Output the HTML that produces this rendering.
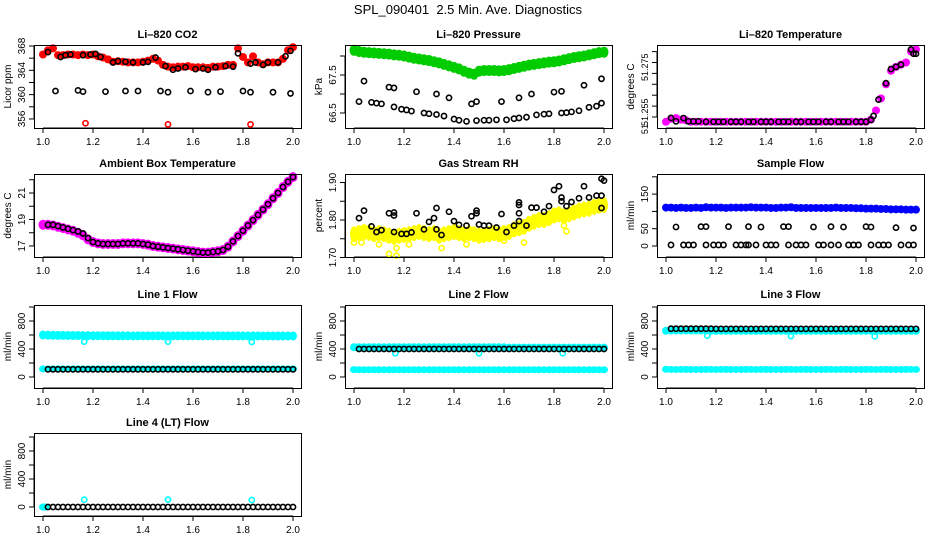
<!DOCTYPE html>
<html><head><meta charset="utf-8"><style>
html,body{margin:0;padding:0;background:#fff;}
svg{display:block;font-family:"Liberation Sans",Arial,sans-serif;}
</style></head><body>
<svg id="chart" width="936" height="540" viewBox="0 0 936 540" xmlns="http://www.w3.org/2000/svg">
<text x="468" y="14" text-anchor="middle" font-size="13">SPL_090401&#160; 2.5 Min. Ave. Diagnostics</text>
</svg>
<script>
// ---- shared x grid (time) ----
const gridX = [1.00,1.02,1.04,1.06,1.08,1.10,1.12,1.14,1.16,1.18,1.20,1.22,1.24,1.26,1.28,1.30,1.32,1.34,1.36,1.38,1.40,1.42,1.44,1.46,1.48,1.50,1.52,1.54,1.56,1.58,1.60,1.62,1.64,1.66,1.68,1.70,1.72,1.74,1.76,1.78,1.80,1.82,1.84,1.86,1.88,1.90,1.92,1.94,1.96,1.98,2.00];
const xTicks = [1.0,1.2,1.4,1.6,1.8,2.0];
const xTickLabels = ["1.0","1.2","1.4","1.6","1.8","2.0"];

// ---- Li-820 CO2 ----
const co2Band = [366.6,367.3,367.6,366.5,366.5,366.6,366.6,366.5,366.6,366.5,366.6,366.3,366.1,365.8,365.4,365.5,365.4,365.3,365.3,365.3,365.4,365.6,365.9,365.6,364.9,364.6,364.5,364.6,364.6,364.7,364.5,364.5,364.5,364.4,364.6,364.6,364.7,364.9,364.9,367.6,366.2,365.3,366.3,365.3,365.0,365.3,365.3,365.3,365.9,367.3,367.8];
const co2HiX = [1.02,1.07,1.09,1.11,1.16,1.19,1.21,1.23,1.28,1.30,1.33,1.36,1.40,1.42,1.45,1.49,1.52,1.54,1.57,1.61,1.64,1.66,1.69,1.73,1.76,1.78,1.83,1.85,1.88,1.90,1.94,1.97,1.99];
const co2HiY = [367.0,366.2,366.5,366.6,366.5,366.6,366.7,366.2,365.3,365.5,365.4,365.3,365.3,365.4,366.1,364.7,364.1,364.3,364.5,364.2,364.3,364.1,364.5,364.7,364.6,366.8,365.1,365.3,364.9,365.3,365.3,366.3,367.2];
const co2LoX = [1.05,1.14,1.16,1.25,1.33,1.38,1.47,1.50,1.59,1.66,1.71,1.80,1.83,1.92,1.99];
const co2LoY = [360.6,360.7,360.5,360.5,360.6,360.6,360.6,360.4,360.6,360.4,360.5,360.6,360.4,360.4,360.2];
const co2RedX = [1.17,1.50,1.83];
const co2RedY = [355.3,355.1,355.1];

// ---- Li-820 Pressure ----
const presBand = [68.15,68.12,68.1,68.09,68.08,68.07,68.06,68.05,68.03,68.02,68.0,67.97,67.94,67.92,67.9,67.88,67.85,67.82,67.78,67.74,67.7,67.66,67.6,67.55,67.52,67.6,67.62,67.62,67.62,67.61,67.62,67.64,67.67,67.7,67.73,67.76,67.78,67.8,67.82,67.84,67.85,67.87,67.9,67.93,67.96,67.98,68.0,68.03,68.06,68.09,68.1];
const presUpX = [1.04,1.14,1.16,1.25,1.33,1.38,1.47,1.49,1.59,1.66,1.71,1.80,1.83,1.92,1.99];
const presUpY = [67.34,67.18,67.16,67.06,67.0,66.9,66.74,66.8,66.8,66.9,67.0,67.05,67.07,67.23,67.4];
const presLoX = [1.02,1.07,1.09,1.11,1.16,1.19,1.21,1.23,1.28,1.30,1.33,1.36,1.40,1.42,1.45,1.49,1.52,1.54,1.57,1.61,1.64,1.66,1.69,1.73,1.76,1.78,1.83,1.85,1.87,1.90,1.94,1.97,1.99];
const presLoY = [66.8,66.78,66.76,66.74,66.66,66.6,66.58,66.55,66.5,66.48,66.46,66.42,66.34,66.31,66.28,66.3,66.31,66.31,66.32,66.32,66.35,66.37,66.39,66.45,66.47,66.48,66.5,66.51,66.53,66.56,66.65,66.68,66.76];

// ---- Li-820 Temperature ----
const tempBand = [51.2478,51.2492,51.2495,51.2488,51.2485,51.2478,51.2478,51.2478,51.2478,51.2478,51.2478,51.2478,51.2478,51.2478,51.2478,51.2478,51.2478,51.2478,51.2478,51.2478,51.2478,51.2478,51.2478,51.2478,51.2478,51.2478,51.2478,51.2478,51.2478,51.2478,51.2478,51.2478,51.2478,51.2478,51.2478,51.2478,51.2478,51.2478,51.2478,51.2478,51.2478,51.2488,51.2530,51.2585,51.2650,51.2712,51.2730,51.2740,51.2750,51.2800,51.2810];
const tempPtX = [1.02,1.04,1.07,1.09,1.11,1.13,1.16,1.19,1.21,1.23,1.26,1.28,1.30,1.33,1.35,1.38,1.40,1.42,1.45,1.47,1.49,1.52,1.54,1.57,1.59,1.61,1.64,1.66,1.69,1.71,1.73,1.76,1.78,1.80,1.82,1.83,1.85,1.88,1.90,1.92,1.94,1.98,1.99,2.00];
const tempPtY = [51.2496,51.2480,51.2495,51.2480,51.2480,51.2480,51.2478,51.2478,51.2478,51.2478,51.2478,51.2478,51.2478,51.2478,51.2478,51.2478,51.2478,51.2478,51.2478,51.2478,51.2478,51.2478,51.2478,51.2478,51.2478,51.2478,51.2478,51.2478,51.2478,51.2478,51.2478,51.2478,51.2478,51.2478,51.2487,51.2505,51.2580,51.2655,51.2720,51.2730,51.2740,51.2810,51.2790,51.2790];
const tempLabelText = ["51.275","51.255","51."];
const tempLabelVal = [51.2728,51.2522,51.2450];

// ---- Ambient Box Temperature ----
const ambBand = [18.6,18.6,18.55,18.45,18.35,18.25,18.15,18.0,17.8,17.5,17.3,17.2,17.15,17.15,17.15,17.15,17.2,17.2,17.2,17.2,17.15,17.1,17.0,16.95,16.9,16.85,16.8,16.75,16.7,16.65,16.6,16.55,16.5,16.5,16.55,16.6,16.7,16.95,17.35,17.75,18.15,18.55,18.95,19.35,19.75,20.15,20.6,21.0,21.45,21.85,22.2];
const ambPtY = [18.6,18.6,18.5,18.4,18.3,18.2,18.1,17.95,17.6,17.3,17.2,17.15,17.15,17.15,17.15,17.2,17.2,17.2,17.2,17.15,17.1,17.0,16.95,16.9,16.85,16.8,16.75,16.7,16.65,16.6,16.55,16.5,16.5,16.55,16.6,16.7,16.95,17.35,17.75,18.15,18.55,18.95,19.35,19.75,20.15,20.6,21.0,21.45,21.85,22.2];

// ---- Gas Stream RH ----
const rhBand = [1.762,1.765,1.768,1.766,1.762,1.765,1.762,1.758,1.755,1.758,1.76,1.762,1.765,1.768,1.765,1.762,1.765,1.758,1.762,1.765,1.768,1.765,1.762,1.765,1.762,1.758,1.76,1.762,1.765,1.762,1.765,1.768,1.775,1.778,1.782,1.79,1.795,1.80,1.80,1.805,1.812,1.815,1.81,1.815,1.82,1.825,1.828,1.83,1.835,1.838,1.84];
const rhLowX = [1.00,1.03,1.10,1.14,1.17,1.17,1.22,1.35,1.45,1.60,1.68,1.85,1.84];
const rhLowY = [1.74,1.74,1.735,1.71,1.705,1.725,1.735,1.725,1.735,1.745,1.74,1.77,1.785];
const rhPtX = [1.02,1.04,1.07,1.09,1.11,1.14,1.16,1.16,1.16,1.19,1.21,1.23,1.25,1.28,1.30,1.32,1.33,1.33,1.35,1.38,1.40,1.42,1.45,1.47,1.49,1.49,1.50,1.52,1.54,1.57,1.59,1.61,1.64,1.66,1.66,1.66,1.66,1.69,1.71,1.73,1.76,1.78,1.80,1.82,1.83,1.83,1.85,1.87,1.90,1.92,1.94,1.97,1.99,1.99,1.99,2.00];
const rhPtY = [1.805,1.825,1.783,1.768,1.773,1.818,1.82,1.812,1.768,1.763,1.763,1.767,1.818,1.775,1.795,1.805,1.832,1.775,1.76,1.822,1.797,1.787,1.785,1.81,1.818,1.825,1.788,1.785,1.785,1.78,1.816,1.768,1.785,1.797,1.818,1.84,1.847,1.785,1.833,1.833,1.822,1.837,1.88,1.89,1.86,1.85,1.837,1.848,1.858,1.89,1.86,1.865,1.865,1.832,1.91,1.905];

// ---- Sample Flow ----
const sfBand = [111,111,110,111,110,110,111,110,112,111,111,111,110,111,111,111,111,112,111,111,111,110,110,111,111,112,110,110,110,110,110,110,110,110,111,110,110,110,109,109,108,108,108,107,107,106,106,106,105,105,105];
const sfUpX = [1.04,1.14,1.16,1.25,1.33,1.38,1.47,1.49,1.59,1.66,1.71,1.80,1.82,1.92,1.99];
const sfUpY = [55,56,56,56,56,55,56,56,55,56,55,56,55,53,52];
const sfZeroX = [1.02,1.07,1.09,1.11,1.16,1.19,1.21,1.23,1.28,1.30,1.32,1.33,1.36,1.40,1.42,1.44,1.49,1.52,1.54,1.56,1.61,1.63,1.66,1.69,1.73,1.75,1.77,1.82,1.85,1.87,1.89,1.94,1.97,1.99];
const sfZeroY = [3,3,3,3,3,3,3,3,3,3,3,3,3,3,3,3,3,3,3,3,3,3,3,3,3,3,3,3,3,3,3,3,3,3];

// ---- Line flows ----
const dipX = [1.165,1.50,1.835];
const l1High = [600,598,596,595,594,593,592,592,591,591,590,590,590,589,589,589,589,589,588,588,588,588,588,588,588,588,588,588,588,588,588,588,588,588,588,588,587,587,587,587,587,587,587,587,586,586,586,586,586,586,586];
const l1Low = [115,116,116,116,116,116,116,116,116,116,116,116,116,116,116,116,116,116,116,116,116,116,116,116,116,116,116,116,116,116,116,116,116,116,116,116,116,116,116,116,116,116,116,116,116,116,116,116,116,116,116];
const l1Black = [110,110,110,110,110,110,110,110,110,110,110,110,110,110,110,110,110,110,110,110,110,110,110,110,110,110,110,110,110,110,110,110,110,110,110,110,110,110,110,110,110,110,110,110,110,110,110,110,110,110];
const l1Dip = [505,505,500];
const l2High = [425,425,425,425,425,425,425,425,425,425,425,425,425,425,425,425,425,425,425,425,425,425,425,425,425,425,425,425,425,425,425,420,420,420,420,420,420,420,420,420,420,420,420,420,420,420,420,420,420,420,420];
const l2Low = [105,104,104,104,104,104,104,104,104,104,104,104,104,104,104,104,104,104,104,104,104,104,104,104,104,104,104,104,104,104,104,104,104,104,104,104,104,104,104,104,104,104,104,104,104,104,104,104,104,104,104];
const l2Black = [400,400,400,400,400,400,400,400,400,400,400,400,400,400,400,400,400,400,400,400,400,400,400,400,400,400,400,400,400,400,400,400,400,400,400,400,400,400,400,400,400,400,400,400,400,400,400,400,400,400];
const l2Dip = [340,340,340];
const l3High = [660,665,665,665,665,665,665,665,665,660,660,660,660,660,660,660,660,660,660,660,660,660,660,660,660,660,660,660,660,660,660,660,660,660,660,660,660,660,660,660,660,660,660,660,660,660,660,660,660,660,660];
const l3Low = [110,108,108,108,108,108,108,108,108,108,108,108,108,108,108,108,108,108,108,108,108,108,108,108,108,108,108,108,108,108,108,108,108,108,108,108,108,108,108,108,108,108,108,108,108,108,108,108,108,108,108];
const l3Black = [690,690,690,690,690,690,690,690,690,688,688,688,688,688,688,688,688,688,688,688,688,688,688,688,688,688,688,688,688,688,688,688,688,688,688,688,688,688,688,688,688,688,688,688,688,688,688,688,688,688];
const l3Dip = [590,585,580];
const l4Cyan = [0,0,0];
const l4CyanX = [1.00,1.005,1.01];
const l4Black = [0,0,0,0,0,0,0,0,0,0,0,0,0,0,0,0,0,0,0,0,0,0,0,0,0,0,0,0,0,0,0,0,0,0,0,0,0,0,0,0,0,0,0,0,0,0,0,0,0,0];
const l4Spike = [105,105,100];

const NS = "http://www.w3.org/2000/svg";
const svg = document.getElementById("chart");
function mk(tag, attrs, parent) {
  const e = document.createElementNS(NS, tag);
  for (const k in attrs) e.setAttribute(k, attrs[k]);
  (parent || svg).appendChild(e);
  return e;
}
const BW = 267, BH = 83;
function makePanel(left, top, title, ylab, v0, y0, k, ticks, labels) {
  const g = mk("g", {});
  
  
  const p = {left, top, v0, y0, k, g};
  p.x = x => left + 9 + (x - 1) * 250;
  p.y = v => y0 - (v - v0) * k;
  const t = mk("text", {x: left + BW / 2, y: top - 7, "text-anchor": "middle", "font-size": "11", "font-weight": "bold"}, g);
  t.textContent = title;
  
  
  const yl = mk("text", {transform: `translate(${left - 23},${top + BH / 2}) rotate(-90)`, "text-anchor": "middle", "font-size": "10"}, g);
  yl.textContent = ylab;
  
  
  const yAx = mk("g", {stroke: "#000", "stroke-width": "1"}, g);
  
  
  const ys = ticks.map(p.y);
  mk("line", {x1: left, x2: left, y1: Math.min(...ys), y2: Math.max(...ys)}, yAx);
  ticks.forEach((tv, i) => {
    const yy = p.y(tv);
    mk("line", {x1: left - 5, x2: left, y1: yy, y2: yy}, yAx);
    if (labels[i]) {
      const lt = mk("text", {transform: `translate(${left - 9},${yy}) rotate(-90)`, "text-anchor": "middle", "font-size": "10", stroke: "none"}, g);
      lt.textContent = labels[i];
      
      
    }
  });
  const xAx = mk("g", {stroke: "#000", "stroke-width": "1"}, g);
  
  
  mk("line", {x1: p.x(1), x2: p.x(2), y1: top + BH, y2: top + BH}, xAx);
  xTicks.forEach((tv, i) => {
    const xx = p.x(tv);
    mk("line", {x1: xx, x2: xx, y1: top + BH, y2: top + BH + 5}, xAx);
    const lt = mk("text", {x: xx, y: top + BH + 17, "text-anchor": "middle", "font-size": "10", stroke: "none"}, g);
    lt.textContent = xTickLabels[i];
    
    
  });
  p.marks = mk("g", {}, g);
  
  
  const box = mk("rect", {x: left + 0.5, y: top + 0.5, width: BW, height: BH, fill: "none", stroke: "#000", "stroke-width": "1"}, g);
  
  
  return p;
}
function band(p, xs, vs, color, rx, ry, name) {
  const g = mk("g", {fill: color}, p.marks);
  
  
  xs.forEach((x, i) => {
    if (vs[i] === undefined) return;
    const e = mk("ellipse", {cx: p.x(x), cy: p.y(vs[i]), rx: rx, ry: ry}, g);
    
    
  });
}
function pts(p, xs, vs, color, name) {
  const g = mk("g", {fill: "none", stroke: color, "stroke-width": "1.6"}, p.marks);
  
  
  xs.forEach((x, i) => {
    if (vs[i] === undefined) return;
    const c = mk("circle", {cx: p.x(x), cy: p.y(vs[i]), r: 2.6}, g);
    
    
  });
}
const L1 = 34, L2 = 345, L3 = 657;
const T1 = 45, T2 = 174, T3 = 305, T4 = 433;
const gridX2 = gridX.slice(1);

// Row 1
let p = makePanel(L1, T1, "Li\u2013820 CO2", "Licor ppm", 368, 46, 6.08, [356,358,360,362,364,366,368], ["356","","360","","364","","368"]);
band(p, gridX, co2Band, "#ff0000", 4, 4, "co2-red-band");
pts(p, co2HiX, co2HiY, "#000", "co2-black-high");
pts(p, co2LoX, co2LoY, "#000", "co2-black-low");
pts(p, co2RedX, co2RedY, "#ff0000", "co2-red-low");

p = makePanel(L2, T1, "Li\u2013820 Pressure", "kPa", 68, 56, 38, [66.5,67,67.5,68], ["66.5","","67.5",""]);
band(p, gridX, presBand, "#00cc00", 4.5, 5.5, "pressure-green-band");
pts(p, presUpX, presUpY, "#000", "pressure-black-upper");
pts(p, presLoX, presLoY, "#000", "pressure-black-lower");

p = makePanel(L3, T1, "Li\u2013820 Temperature", "degrees C", 51.25, 117, 2180, [51.25,51.255,51.26,51.265,51.27,51.275,51.28], ["","","","","","",""]);
tempLabelText.forEach((s, i) => {
  const lt = mk("text", {transform: `translate(${L3 - 9},${p.y(tempLabelVal[i])}) rotate(-90)`, "text-anchor": "middle", "font-size": "9"}, p.g);
  lt.textContent = s;
  
  
});
band(p, gridX, tempBand, "#ff00ff", 4, 4, "temp-magenta-band");
pts(p, tempPtX, tempPtY, "#000", "temp-black-points");

// Row 2
p = makePanel(L1, T2, "Ambient Box Temperature", "degrees C", 17, 246, 13.25, [17,18,19,20,21,22], ["17","","19","","21",""]);
band(p, gridX, ambBand, "#ff00ff", 4.5, 5, "ambient-magenta-band");
pts(p, gridX2, ambPtY, "#000", "ambient-black-points");

p = makePanel(L2, T2, "Gas Stream RH", "percent", 1.8, 220, 375, [1.70,1.75,1.80,1.85,1.90], ["1.70","","1.80","","1.90"]);
band(p, gridX, rhBand, "#ffff00", 4, 8, "rh-yellow-band");
pts(p, rhLowX, rhLowY, "#ffff00", "rh-yellow-scatter");
pts(p, rhPtX, rhPtY, "#000", "rh-black-points");

p = makePanel(L3, T2, "Sample Flow", "ml/min", 0, 246, 0.346, [0,50,100,150,200], ["0","50","","150",""]);
band(p, gridX, sfBand, "#0000ff", 4, 4, "sample-blue-band");
pts(p, sfUpX, sfUpY, "#000", "sample-black-upper");
pts(p, sfZeroX, sfZeroY, "#000", "sample-black-zero");

// Row 3
const fTicks = [0,200,400,600,800,1000], fLabels = ["0","","400","","800",""];
p = makePanel(L1, T3, "Line 1 Flow", "ml/min", 0, 377, 0.07, fTicks, fLabels);
band(p, gridX, l1High, "#00ffff", 4, 4.5, "line1-cyan-high");
band(p, gridX, l1Low, "#00ffff", 4, 3.5, "line1-cyan-low");
pts(p, dipX, l1Dip, "#00ffff", "line1-cyan-dips");
pts(p, gridX2, l1Black, "#000", "line1-black");

p = makePanel(L2, T3, "Line 2 Flow", "ml/min", 0, 377, 0.07, fTicks, fLabels);
band(p, gridX, l2High, "#00ffff", 4, 4, "line2-cyan-high");
band(p, gridX, l2Low, "#00ffff", 4, 3.5, "line2-cyan-low");
pts(p, dipX, l2Dip, "#00ffff", "line2-cyan-dips");
pts(p, gridX2, l2Black, "#000", "line2-black");

p = makePanel(L3, T3, "Line 3 Flow", "ml/min", 0, 377, 0.07, fTicks, fLabels);
band(p, gridX, l3High, "#00ffff", 4, 4, "line3-cyan-high");
band(p, gridX, l3Low, "#00ffff", 4, 3.5, "line3-cyan-low");
pts(p, dipX, l3Dip, "#00ffff", "line3-cyan-dips");
pts(p, gridX2, l3Black, "#000", "line3-black");

// Row 4
p = makePanel(L1, T4, "Line 4 (LT) Flow", "ml/min", 0, 507, 0.07, fTicks, fLabels);
band(p, l4CyanX, l4Cyan, "#00ffff", 4, 3.5, "line4-cyan-start");
pts(p, gridX2, l4Black, "#000", "line4-black");
pts(p, dipX, l4Spike, "#00ffff", "line4-cyan-spikes");
</script>
</body></html>
